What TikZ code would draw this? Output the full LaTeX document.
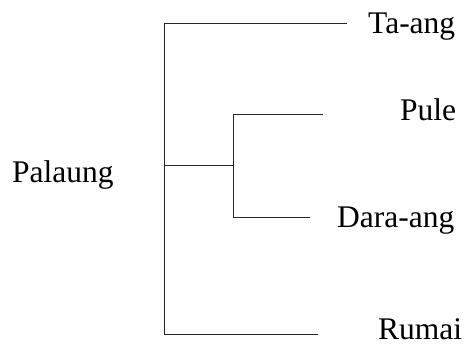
\documentclass[tikz,border=0pt]{standalone}
\usepackage{fontspec}
\setmainfont{Liberation Serif}
\begin{document}
\begin{tikzpicture}[x=1pt,y=-1pt,
  branch/.style={draw=black!85,line width=0.9pt},
  leaf/.style={anchor=base west,inner sep=0pt,font=\fontsize{31.5}{36}\selectfont}]
\useasboundingbox (0,0) rectangle (467,346);
% labels
\node[leaf] (palaung) at (12,182) {Palaung};
\node[leaf] (taang)   at (368,33)  {Ta-ang};
\node[leaf] (pule)    at (400,120) {Pule};
\node[leaf] (daraang) at (337,227) {Dara-ang};
\node[leaf] (rumai)   at (378,339) {Rumai};
% branch points and branch tips
\coordinate (root) at (164,165);
\coordinate (sub)  at (233,165);
\coordinate (tTip) at (347,23);
\coordinate (pTip) at (323,114);
\coordinate (dTip) at (310,217);
\coordinate (rTip) at (318,334);
% tree
\draw[branch] (root) |- (tTip);
\draw[branch] (root) |- (rTip);
\draw[branch] (root) -- (sub);
\draw[branch] (sub) |- (pTip);
\draw[branch] (sub) |- (dTip);
\end{tikzpicture}
\end{document}
